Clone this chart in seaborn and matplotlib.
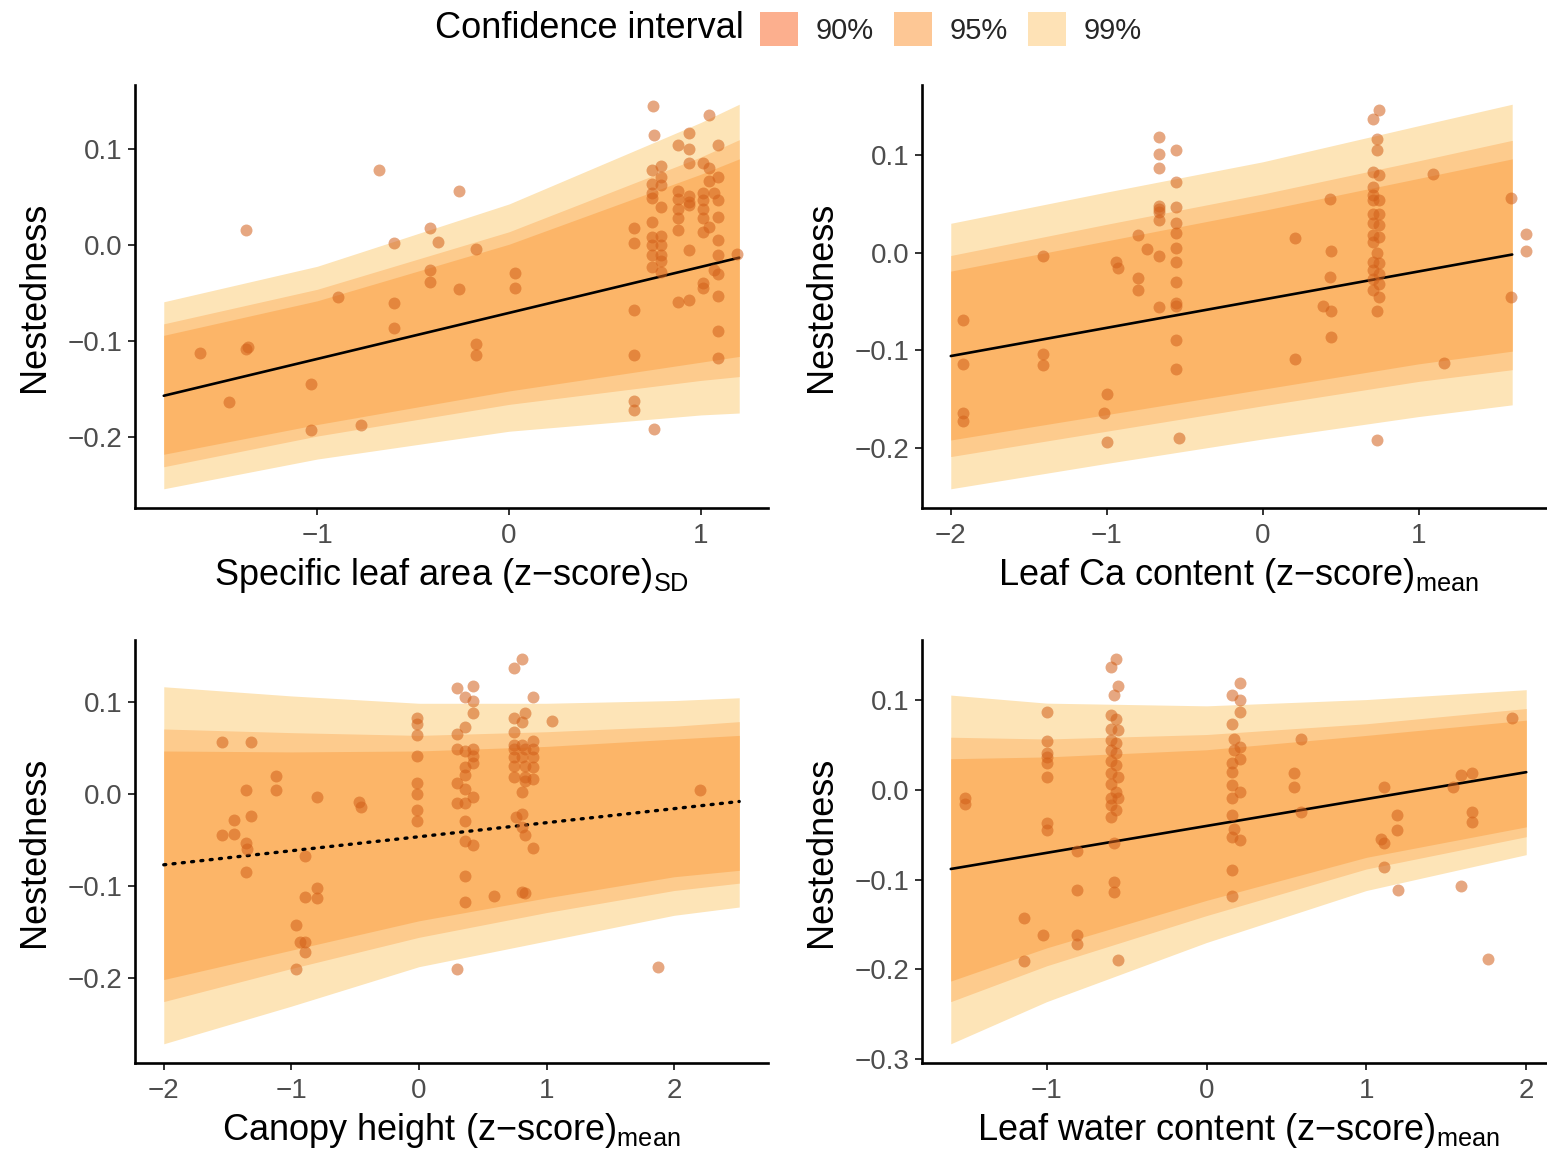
import matplotlib
matplotlib.use("Agg")
import matplotlib.pyplot as plt
from matplotlib.patches import Patch
from matplotlib.ticker import FuncFormatter
import seaborn as sns

# ---------------- data ----------------
# Specific leaf area (SD)
sla_x = [-1.61, -1.46, -1.37, -1.37, -1.36, -1.03, -1.03, -0.89, -0.77, -0.68,
         -0.60, -0.60, -0.60, -0.41, -0.37, -0.41, -0.41, -0.26, -0.26, -0.17,
         -0.17, -0.17, 0.03, 0.03, 0.65, 0.65, 0.65, 0.65, 0.65, 0.65,
         0.755, 0.75, 0.755, 0.745, 0.745, 0.745, 0.745, 0.745, 0.745, 0.745,
         0.745, 0.745, 0.79, 0.79, 0.79, 0.79, 0.79, 0.79, 0.79, 0.79,
         0.79, 0.88, 0.88, 0.88, 0.88, 0.88, 0.88, 0.88, 0.94, 0.94,
         0.94, 0.94, 0.94, 0.94, 0.94, 0.94, 1.01, 1.01, 1.01, 1.01,
         1.01, 1.01, 1.01, 1.01, 1.04, 1.04, 1.04, 1.04, 1.07, 1.07,
         1.09, 1.09, 1.09, 1.09, 1.09, 1.09, 1.09, 1.09, 1.09, 1.09,
         1.19]
sla_y = [-0.112, -0.163, 0.016, -0.108, -0.106, -0.145, -0.193, -0.054, -0.188, 0.078,
         0.002, -0.060, -0.086, 0.018, 0.003, -0.026, -0.038, 0.056, -0.046, -0.004,
         -0.103, -0.115, -0.029, -0.045, 0.018, 0.002, -0.068, -0.114, -0.162, -0.172,
         -0.192, 0.145, 0.115, 0.078, 0.064, 0.054, 0.049, 0.024, 0.009, 0.000,
         -0.010, -0.023, 0.083, 0.071, 0.063, 0.040, 0.010, 0.000, -0.010, -0.017,
         -0.028, 0.105, 0.056, 0.048, 0.038, 0.028, 0.016, -0.059, 0.117, 0.100,
         0.086, 0.051, 0.045, 0.042, -0.005, -0.057, 0.086, 0.054, 0.047, 0.038,
         0.028, 0.014, -0.039, -0.045, 0.136, 0.081, 0.067, 0.019, 0.054, -0.026,
         0.105, 0.071, 0.047, 0.029, 0.005, -0.010, -0.030, -0.053, -0.089, -0.118,
         -0.009]
sla_bx = [-1.80, -1.00, 0.00, 1.00, 1.20]
sla_lo99 = [-0.254, -0.223, -0.194, -0.177, -0.175]
sla_hi99 = [-0.059, -0.022, 0.043, 0.128, 0.147]
sla_lo95 = [-0.231, -0.199, -0.166, -0.141, -0.137]
sla_hi95 = [-0.082, -0.046, 0.014, 0.092, 0.110]
sla_lo90 = [-0.218, -0.187, -0.152, -0.122, -0.116]
sla_hi90 = [-0.094, -0.058, 0.001, 0.074, 0.090]
sla_fit_x = [-1.80, 1.20]
sla_fit_y = [-0.157, -0.013]

# Leaf Ca content (mean)
ca_x = [-1.92, -1.92, -1.92, -1.92, -1.41, -1.41, -1.41, -1.00, -1.02, -1.00,
        -0.94, -0.93, -0.80, -0.80, -0.80, -0.74, -0.665, -0.665, -0.665, -0.665,
        -0.665, -0.665, -0.665, -0.665, -0.665, -0.555, -0.555, -0.555, -0.555, -0.555,
        -0.555, -0.555, -0.555, -0.555, -0.555, -0.555, -0.555, -0.536, 0.21, 0.21,
        0.39, 0.43, 0.436, 0.43, 0.436, 0.436, 0.706, 0.747, 0.735, 0.735,
        0.706, 0.747, 0.706, 0.706, 0.706, 0.747, 0.706, 0.747, 0.706, 0.747,
        0.706, 0.747, 0.706, 0.735, 0.706, 0.747, 0.706, 0.747, 0.706, 0.747,
        0.706, 0.747, 0.735, 0.735, 1.09, 1.16, 1.59, 1.59, 1.69, 1.69]
ca_y = [-0.069, -0.114, -0.164, -0.173, -0.003, -0.104, -0.115, -0.145, -0.164, -0.194,
        -0.010, -0.016, 0.018, -0.026, -0.038, 0.004, 0.118, 0.101, 0.087, 0.048,
        0.045, 0.042, 0.033, -0.003, -0.056, 0.105, 0.072, 0.047, 0.030, 0.020,
        0.005, -0.010, -0.030, -0.052, -0.055, -0.090, -0.119, -0.190, 0.015, -0.109,
        -0.055, 0.055, 0.002, -0.025, -0.060, -0.087, 0.137, 0.146, 0.116, 0.105,
        0.083, 0.079, 0.067, 0.059, 0.054, 0.054, 0.040, 0.040, 0.030, 0.028,
        0.018, 0.016, 0.011, 0.000, -0.010, -0.011, -0.018, -0.022, -0.027, -0.032,
        -0.038, -0.045, -0.060, -0.192, 0.080, -0.113, 0.056, -0.046, 0.019, 0.002]
ca_bx = [-2.00, -1.00, 0.00, 1.00, 1.60]
ca_lo99 = [-0.242, -0.216, -0.191, -0.168, -0.156]
ca_hi99 = [0.030, 0.062, 0.093, 0.130, 0.152]
ca_lo95 = [-0.209, -0.183, -0.157, -0.132, -0.120]
ca_hi95 = [-0.003, 0.029, 0.060, 0.094, 0.115]
ca_lo90 = [-0.192, -0.166, -0.140, -0.114, -0.101]
ca_hi90 = [-0.019, 0.012, 0.043, 0.076, 0.096]
ca_fit_x = [-2.00, 1.60]
ca_fit_y = [-0.106, -0.002]

# Canopy height (mean)
ht_x = [-1.54, -1.32, -1.45, -1.54, -1.45, -1.355, -1.32, -1.355, -1.35, -1.355,
        -1.12, -1.12, -0.895, -0.80, -0.80, -0.895, -0.80, -0.965, -0.93, -0.895,
        -0.895, -0.965, -0.47, -0.455, -0.016, -0.016, -0.016, -0.016, -0.016, -0.016,
        -0.016, -0.016, 0.30, 0.36, 0.425, 0.425, 0.425, 0.36, 0.30, 0.30,
        0.36, 0.425, 0.425, 0.425, 0.36, 0.36, 0.30, 0.36, 0.425, 0.36,
        0.30, 0.36, 0.36, 0.425, 0.36, 0.36, 0.30, 0.585, 0.745, 0.81,
        0.89, 0.745, 0.83, 0.81, 0.745, 0.745, 0.81, 0.89, 0.745, 0.83,
        0.89, 0.745, 0.81, 0.89, 0.745, 0.83, 0.89, 0.745, 0.83, 0.89,
        0.83, 0.81, 0.81, 0.76, 0.81, 0.83, 0.89, 0.81, 0.83, 1.04,
        1.87, 2.20]
ht_y = [0.057, 0.057, -0.028, -0.044, -0.043, 0.004, -0.024, -0.053, -0.060, -0.085,
        0.020, 0.004, -0.067, -0.003, -0.102, -0.112, -0.113, -0.143, -0.161, -0.161,
        -0.172, -0.191, -0.009, -0.014, 0.083, 0.076, 0.064, 0.042, 0.012, 0.000,
        -0.017, -0.029, 0.116, 0.106, 0.118, 0.101, 0.088, 0.073, 0.066, 0.049,
        0.047, 0.049, 0.042, 0.034, 0.030, 0.021, 0.012, 0.006, -0.003, -0.010,
        -0.010, -0.029, -0.051, -0.055, -0.089, -0.118, -0.190, -0.111, 0.137, 0.147,
        0.106, 0.083, 0.088, 0.079, 0.068, 0.054, 0.054, 0.058, 0.049, 0.049,
        0.049, 0.040, 0.040, 0.040, 0.031, 0.031, 0.030, 0.019, 0.019, 0.017,
        0.014, 0.002, -0.022, -0.025, -0.036, -0.044, -0.059, -0.107, -0.108, 0.080,
        -0.188, 0.005]
ht_bx = [-2.00, -1.00, 0.00, 1.00, 2.00, 2.51]
ht_lo99 = [-0.272, -0.231, -0.188, -0.160, -0.132, -0.123]
ht_hi99 = [0.117, 0.107, 0.099, 0.099, 0.102, 0.105]
ht_lo95 = [-0.226, -0.190, -0.156, -0.129, -0.105, -0.097]
ht_hi95 = [0.071, 0.067, 0.064, 0.068, 0.074, 0.079]
ht_lo90 = [-0.202, -0.170, -0.138, -0.113, -0.090, -0.083]
ht_hi90 = [0.047, 0.046, 0.047, 0.052, 0.060, 0.064]
ht_fit_x = [-2.00, 2.51]
ht_fit_y = [-0.077, -0.008]

# Leaf water content (mean)
lw_x = [-1.51, -1.51, -1.14, -1.14, -1.02, -1.00, -1.00, -1.00, -1.00, -1.00,
        -1.00, -1.00, -1.00, -0.81, -0.81, -0.81, -0.81, -0.60, -0.565, -0.555,
        -0.58, -0.60, -0.565, -0.60, -0.555, -0.60, -0.565, -0.60, -0.565, -0.60,
        -0.565, -0.60, -0.555, -0.60, -0.565, -0.60, -0.555, -0.60, -0.565, -0.60,
        -0.58, -0.58, -0.58, -0.555, 0.16, 0.21, 0.21, 0.21, 0.16, 0.17,
        0.21, 0.17, 0.21, 0.16, 0.16, 0.16, 0.21, 0.16, 0.16, 0.17,
        0.16, 0.21, 0.16, 0.16, 0.545, 0.545, 0.59, 0.59, 1.11, 1.09,
        1.11, 1.11, 1.19, 1.19, 1.20, 1.545, 1.59, 1.66, 1.66, 1.66,
        1.595, 1.76, 1.91]
lw_y = [-0.009, -0.016, -0.143, -0.191, -0.162, 0.087, 0.055, 0.041, 0.037, 0.030,
        0.015, -0.037, -0.044, -0.068, -0.112, -0.162, -0.172, 0.137, 0.146, 0.116,
        0.106, 0.084, 0.079, 0.068, 0.067, 0.056, 0.052, 0.045, 0.041, 0.032,
        0.028, 0.019, 0.015, 0.007, -0.002, -0.009, -0.009, -0.017, -0.022, -0.030,
        -0.059, -0.102, -0.114, -0.190, 0.106, 0.119, 0.101, 0.087, 0.074, 0.057,
        0.048, 0.045, 0.035, 0.030, 0.020, 0.006, -0.002, -0.009, -0.028, -0.043,
        -0.052, -0.056, -0.089, -0.118, 0.019, 0.004, 0.057, -0.024, 0.004, -0.054,
        -0.059, -0.086, -0.028, -0.044, -0.111, 0.004, 0.017, 0.019, -0.024, -0.036,
        -0.107, -0.188, 0.080]
lw_bx = [-1.60, -1.00, 0.00, 1.00, 2.00]
lw_lo99 = [-0.283, -0.236, -0.170, -0.112, -0.072]
lw_hi99 = [0.106, 0.097, 0.094, 0.101, 0.112]
lw_lo95 = [-0.236, -0.196, -0.140, -0.088, -0.052]
lw_hi95 = [0.059, 0.057, 0.062, 0.074, 0.091]
lw_lo90 = [-0.213, -0.176, -0.123, -0.075, -0.041]
lw_hi90 = [0.035, 0.037, 0.045, 0.061, 0.078]
lw_fit_x = [-1.60, 2.00]
lw_fit_y = [-0.088, 0.020]

x_labels = [
    "Specific leaf area (z\u2212score)" + r"$_{\mathrm{SD}}$",
    "Leaf Ca content (z\u2212score)" + r"$_{\mathrm{mean}}$",
    "Canopy height (z\u2212score)" + r"$_{\mathrm{mean}}$",
    "Leaf water content (z\u2212score)" + r"$_{\mathrm{mean}}$",
]
x_ticks = [[-1, 0, 1], [-2, -1, 0, 1], [-2, -1, 0, 1, 2], [-1, 0, 1, 2]]
y_ticks = [[-0.2, -0.1, 0.0, 0.1], [-0.2, -0.1, 0.0, 0.1],
           [-0.2, -0.1, 0.0, 0.1], [-0.3, -0.2, -0.1, 0.0, 0.1]]
ci_labels = ["90%", "95%", "99%"]

# ---------------- style ----------------
sns.set_theme(style="ticks")
plt.rcParams["font.family"] = ["Liberation Sans", "DejaVu Sans"]
plt.rcParams["mathtext.fontset"] = "custom"
plt.rcParams["mathtext.rm"] = "Liberation Sans"
plt.rcParams["mathtext.it"] = "Liberation Sans:italic"
plt.rcParams["mathtext.bf"] = "Liberation Sans:bold"

BAND99 = "#FDE4B7"
BAND95 = "#FDCB8D"
BAND90 = "#FCB568"
KEY90 = "#FCAF8E"
KEY95 = "#FDC795"
KEY99 = "#FEE2B6"
POINT = "#D2601A"

W, H = 1547, 1154
fig = plt.figure(figsize=(W / 100, H / 100), dpi=100)

rects = [
    (135, 85, 633, 423),
    (922, 85, 633, 423),
    (135, 640, 633, 423),
    (922, 640, 633, 423),
]

panels = [
    (sla_x, sla_y, sla_bx, sla_lo99, sla_hi99, sla_lo95, sla_hi95, sla_lo90, sla_hi90,
     sla_fit_x, sla_fit_y, "-"),
    (ca_x, ca_y, ca_bx, ca_lo99, ca_hi99, ca_lo95, ca_hi95, ca_lo90, ca_hi90,
     ca_fit_x, ca_fit_y, "-"),
    (ht_x, ht_y, ht_bx, ht_lo99, ht_hi99, ht_lo95, ht_hi95, ht_lo90, ht_hi90,
     ht_fit_x, ht_fit_y, (0, (0.6, 2.2))),
    (lw_x, lw_y, lw_bx, lw_lo99, lw_hi99, lw_lo95, lw_hi95, lw_lo90, lw_hi90,
     lw_fit_x, lw_fit_y, "-"),
]


def fmt_y(v, pos):
    s = f"{v:.1f}"
    if s == "-0.0":
        s = "0.0"
    return s.replace("-", "\u2212")


def fmt_x(v, pos):
    s = f"{v:.0f}"
    if s == "-0":
        s = "0"
    return s.replace("-", "\u2212")


for i, (rect, p) in enumerate(zip(rects, panels)):
    (px, py, bx, lo99, hi99, lo95, hi95, lo90, hi90, fx, fy, ls) = p
    l, t, w, h = rect
    ax = fig.add_axes([l / W, 1 - (t + h) / H, w / W, h / H])

    ax.fill_between(bx, lo99, hi99, color=BAND99, lw=0, zorder=1)
    ax.fill_between(bx, lo95, hi95, color=BAND95, lw=0, zorder=2)
    ax.fill_between(bx, lo90, hi90, color=BAND90, lw=0, zorder=3)

    sns.lineplot(x=fx, y=fy, ax=ax, color="black", linewidth=1.9,
                 linestyle=ls, zorder=4)
    if ls != "-":
        ax.lines[-1].set_dash_capstyle("round")
        ax.lines[-1].set_linewidth(2.4)

    sns.scatterplot(x=px, y=py, ax=ax, color=POINT, alpha=0.55, s=74,
                    linewidth=0, zorder=5)

    # ggplot-style 5% expansion
    xmin = min(min(px), min(bx))
    xmax = max(max(px), max(bx))
    ymin = min(min(py), min(lo99))
    ymax = max(max(py), max(hi99))
    dx = 0.05 * (xmax - xmin)
    dy = 0.05 * (ymax - ymin)
    ax.set_xlim(xmin - dx, xmax + dx)
    ax.set_ylim(ymin - dy, ymax + dy)

    ax.set_xticks(x_ticks[i])
    ax.set_yticks(y_ticks[i])
    ax.xaxis.set_major_formatter(FuncFormatter(fmt_x))
    ax.yaxis.set_major_formatter(FuncFormatter(fmt_y))

    ax.set_xlabel(x_labels[i], fontsize=26, color="black", labelpad=5)
    ax.set_ylabel("Nestedness", fontsize=26, color="black", labelpad=11)

    sns.despine(ax=ax)
    for side in ("left", "bottom"):
        ax.spines[side].set_linewidth(1.9)
        ax.spines[side].set_color("black")
    ax.tick_params(axis="both", length=5, width=1.4, color="#333333",
                   labelcolor="#4D4D4D", labelsize=20, pad=4)
    ax.tick_params(axis="x", pad=6)
    ax.set_facecolor("white")
    ax.grid(False)

# legend at the top
fig.text(435 / W, 1 - 29 / H, "Confidence interval", fontsize=26,
         ha="left", va="center", color="black")
handles = [Patch(facecolor=c, edgecolor="none") for c in (KEY90, KEY95, KEY99)]
fig.legend(handles=handles, labels=ci_labels, ncol=3, loc="center left",
           bbox_to_anchor=(760 / W, 1 - 29 / H), frameon=False, fontsize=21,
           handlelength=1.3, handleheight=1.45, handletextpad=0.6,
           columnspacing=0.7, borderpad=0, borderaxespad=0)

fig.savefig("out.png", dpi=100, facecolor="white")
